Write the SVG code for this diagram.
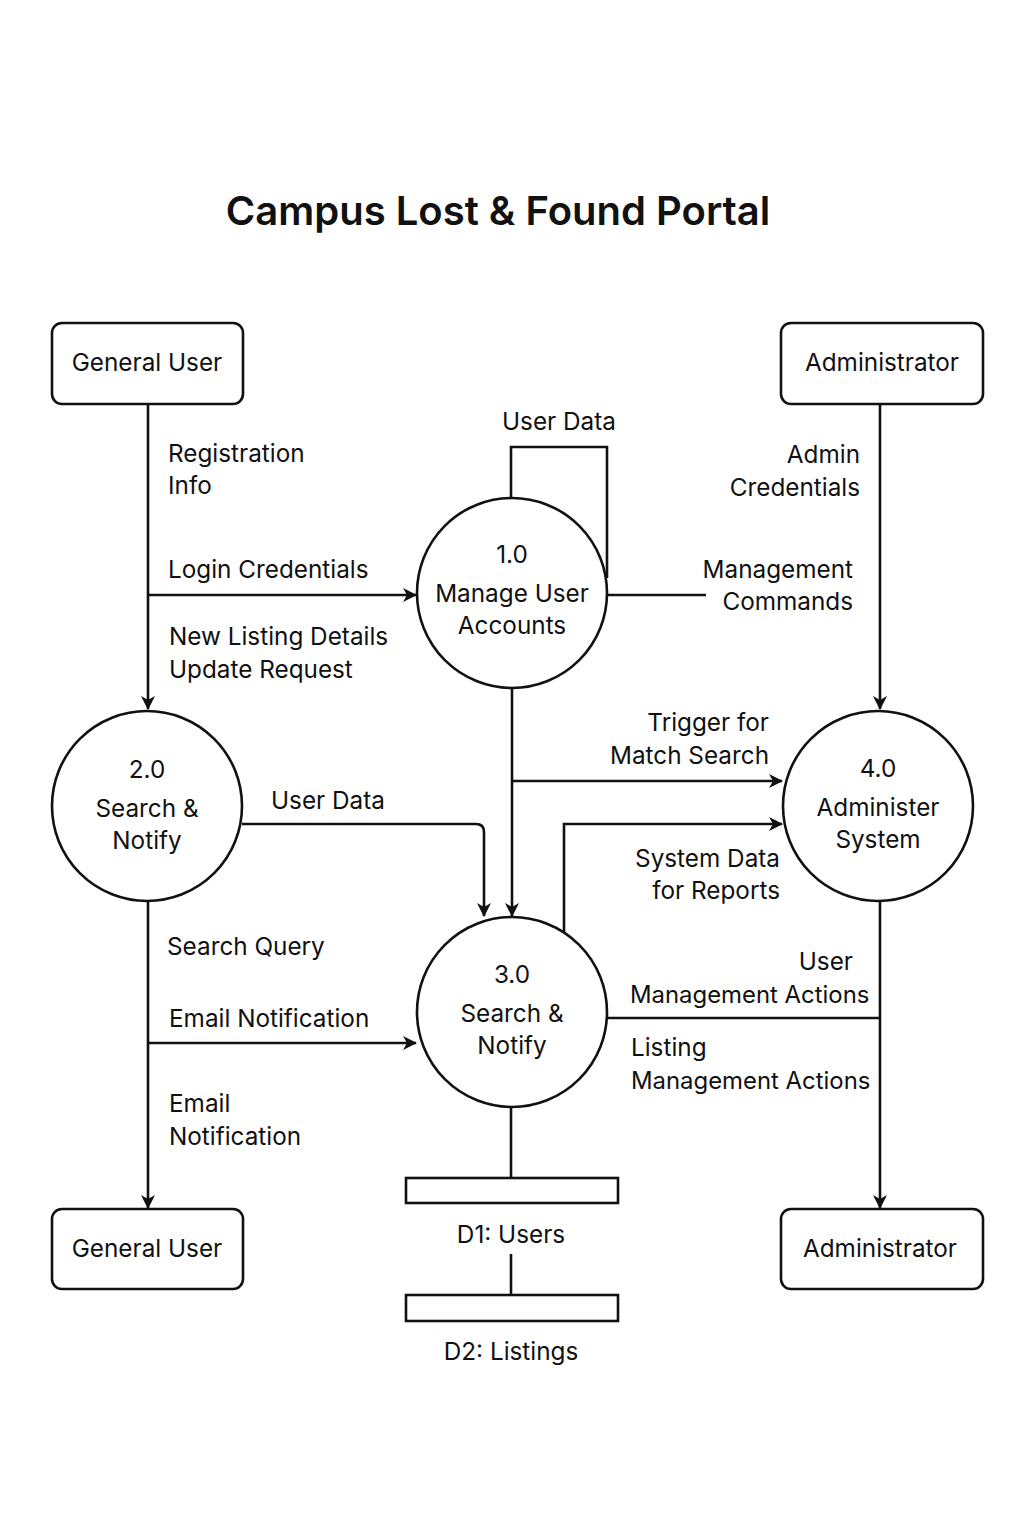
<svg xmlns="http://www.w3.org/2000/svg" width="1024" height="1536" viewBox="0 0 1024 1536">
<defs>
<style>
text{font-family:Inter,"Noto Sans","Liberation Sans",sans-serif;font-size:24.3px;fill:#111}
.t{font-size:40px;font-weight:600}
.s{font-size:23.9px}
.c{text-anchor:middle}
.r{text-anchor:end}
.n{fill:#fff;stroke:#111;stroke-width:2.6}
.l{fill:none;stroke:#111;stroke-width:2.6}
</style>
<marker id="a" viewBox="0 0 14 14" refX="13" refY="7" markerWidth="14" markerHeight="14" markerUnits="userSpaceOnUse" orient="auto">
<path d="M0,0 L14,7 L0,14 L4,7 Z" fill="#111"/>
</marker>
</defs>
<rect width="1024" height="1536" fill="#fff"/>
<text class="t c" x="498" y="225">Campus Lost &amp; Found Portal</text>

<g id="connectors">
<path class="l" d="M148,404 V709" marker-end="url(#a)"/>
<path class="l" d="M148,595 H416" marker-end="url(#a)"/>
<path class="l" d="M511,497 V447 H607 V578"/>
<path class="l" d="M607,595 H706"/>
<path class="l" d="M880,404 V709" marker-end="url(#a)"/>
<path class="l" d="M512,689 V916" marker-end="url(#a)"/>
<path class="l" d="M512,781 H782" marker-end="url(#a)"/>
<path class="l" d="M242,824 H476 Q484,824 484,832 V916" marker-end="url(#a)"/>
<path class="l" d="M564,934 V824 H782" marker-end="url(#a)"/>
<path class="l" d="M148,901 V1208" marker-end="url(#a)"/>
<path class="l" d="M148,1043 H416" marker-end="url(#a)"/>
<path class="l" d="M880,902 V1208" marker-end="url(#a)"/>
<path class="l" d="M607,1018 H880"/>
<path class="l" d="M511,1108 V1178"/>
<path class="l" d="M511,1254 V1295"/>
</g>

<g id="labels">
<text class="c" x="559" y="430">User Data</text>
<text x="168" y="462">Registration</text>
<text x="168" y="494">Info</text>
<text x="168" y="578">Login Credentials</text>
<text x="169" y="645">New Listing Details</text>
<text x="169" y="678">Update Request</text>
<text class="r" x="860" y="463">Admin</text>
<text class="r" x="860" y="496">Credentials</text>
<text class="r" x="853" y="578">Management</text>
<text class="r" x="853" y="610">Commands</text>
<text class="r" x="769" y="731">Trigger for</text>
<text class="r" x="769" y="764">Match Search</text>
<text x="271" y="809">User Data</text>
<text class="r" x="780" y="867">System Data</text>
<text class="r" x="780" y="899">for Reports</text>
<text x="167" y="955">Search Query</text>
<text x="169" y="1027">Email Notification</text>
<text x="169" y="1112">Email</text>
<text x="169" y="1145">Notification</text>
<text class="r" x="853" y="970">User</text>
<text class="s" x="630" y="1003">Management Actions</text>
<text x="631" y="1056">Listing</text>
<text class="s" x="631" y="1089">Management Actions</text>
</g>

<g id="general-user-top">
<rect class="n" x="52" y="323" width="191" height="81" rx="10"/>
<text class="c" x="147" y="371">General User</text>
</g>
<g id="administrator-top">
<rect class="n" x="781" y="323" width="202" height="81" rx="10"/>
<text class="c" x="882" y="371">Administrator</text>
</g>
<g id="p1">
<circle class="n" cx="512" cy="593" r="95"/>
<text class="c" x="512" y="563">1.0</text>
<text class="c" x="512" y="602">Manage User</text>
<text class="c" x="512" y="634">Accounts</text>
</g>
<g id="p2">
<circle class="n" cx="147" cy="806" r="95"/>
<text class="c" x="147" y="778">2.0</text>
<text class="c" x="147" y="817">Search &amp;</text>
<text class="c" x="147" y="849">Notify</text>
</g>
<g id="p3">
<circle class="n" cx="512" cy="1012" r="95"/>
<text class="c" x="512" y="983">3.0</text>
<text class="c" x="512" y="1022">Search &amp;</text>
<text class="c" x="512" y="1054">Notify</text>
</g>
<g id="p4">
<circle class="n" cx="878" cy="806" r="95"/>
<text class="c" x="878" y="777">4.0</text>
<text class="c" x="878" y="816">Administer</text>
<text class="c" x="878" y="848">System</text>
</g>
<g id="d1">
<rect class="n" x="406" y="1178" width="212" height="25"/>
<text class="c" x="511" y="1243">D1: Users</text>
</g>
<g id="d2">
<rect class="n" x="406" y="1295" width="212" height="26"/>
<text class="c" x="511" y="1360">D2: Listings</text>
</g>
<g id="general-user-bottom">
<rect class="n" x="52" y="1209" width="191" height="80" rx="10"/>
<text class="c" x="147" y="1257">General User</text>
</g>
<g id="administrator-bottom">
<rect class="n" x="781" y="1209" width="202" height="80" rx="10"/>
<text class="c" x="880" y="1257">Administrator</text>
</g>
</svg>
